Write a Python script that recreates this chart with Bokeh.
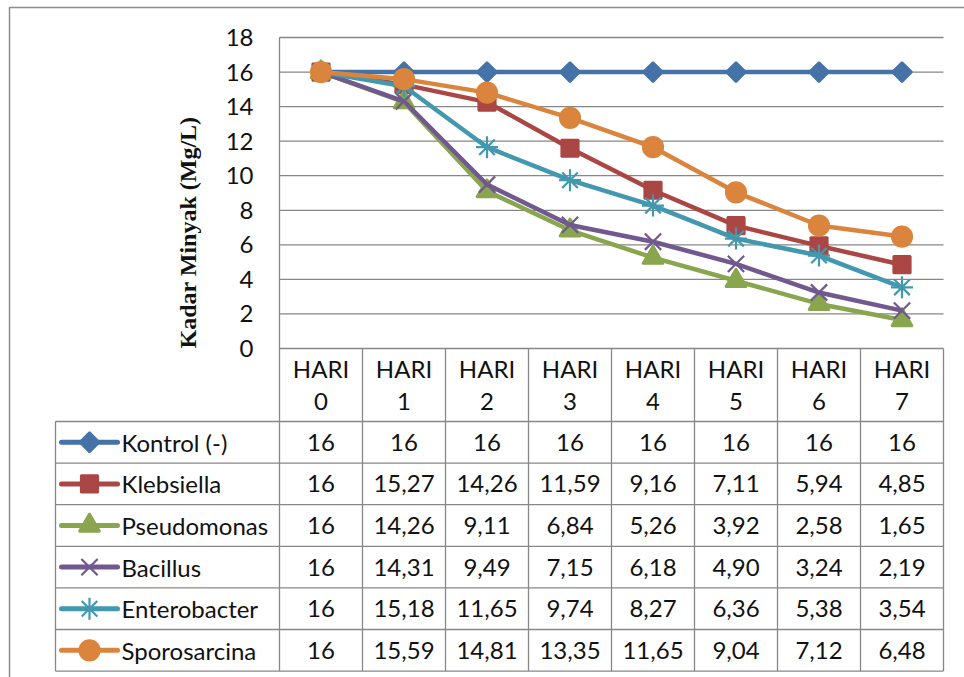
import math
from bokeh.plotting import figure
from bokeh.models import Range1d
from bokeh.core.properties import value
from bokeh.embed import file_html
from bokeh.resources import INLINE

# ---- data -----------------------------------------------------------------
categories = ["HARI 0", "HARI 1", "HARI 2", "HARI 3",
              "HARI 4", "HARI 5", "HARI 6", "HARI 7"]
y_ticks = [0, 2, 4, 6, 8, 10, 12, 14, 16, 18]
y_title = "Kadar Minyak (Mg/L)"

series_names = ["Kontrol (-)", "Klebsiella", "Pseudomonas",
                "Bacillus", "Enterobacter", "Sporosarcina"]
kontrol = [16, 16, 16, 16, 16, 16, 16, 16]
klebsiella = [16, 15.27, 14.26, 11.59, 9.16, 7.11, 5.94, 4.85]
pseudomonas = [16, 14.26, 9.11, 6.84, 5.26, 3.92, 2.58, 1.65]
bacillus = [16, 14.31, 9.49, 7.15, 6.18, 4.90, 3.24, 2.19]
enterobacter = [16, 15.18, 11.65, 9.74, 8.27, 6.36, 5.38, 3.54]
sporosarcina = [16, 15.59, 14.81, 13.35, 11.65, 9.04, 7.12, 6.48]
series_values = [kontrol, klebsiella, pseudomonas, bacillus, enterobacter, sporosarcina]

# ---- styling ----------------------------------------------------------------
colors = ["#4572A7", "#AA4643", "#89A54E", "#71588F", "#4198AF", "#DB843D"]
markers = [
    dict(marker="square", size=14, angle=math.pi / 4),   # diamond
    dict(marker="square", size=17, angle=0),
    dict(marker="triangle", size=21, angle=0),
    dict(marker="x", size=23, angle=0),
    dict(marker="asterisk", size=22, angle=0),
    dict(marker="circle", size=20, angle=0),
]
GRID = "#878787"
FONT = value("Lato")
FS = "24px"

# ---- layout (pixels) --------------------------------------------------------
W, H = 964, 677
PLOT_L, PLOT_R = 279, 943
PLOT_T, PLOT_B = 37, 348
ROW_TOP, ROW_H = 421, 41.6
LEG_L = 55
N = len(categories)
col_w = (PLOT_R - PLOT_L) / N
px_per_unit = (PLOT_B - PLOT_T) / (y_ticks[-1] - y_ticks[0])
table_bottom = ROW_TOP + ROW_H * len(series_names)

p = figure(width=W, height=H, output_backend="svg", toolbar_location=None,
           x_axis_location=None, y_axis_location=None, min_border=0,
           x_range=Range1d(-0.5 - PLOT_L / col_w, -0.5 + (W - PLOT_L) / col_w),
           y_range=Range1d(-(H - PLOT_B) / px_per_unit, PLOT_B / px_per_unit))
p.extra_x_ranges = {"px": Range1d(0, W)}
p.extra_y_ranges = {"px": Range1d(H, 0)}
p.grid.visible = False
p.outline_line_color = None
p.background_fill_color = "white"
p.border_fill_color = "white"

# outer chart border
p.line([9, 9, W + 10], [H + 10, 7, 7], x_range_name="px", y_range_name="px",
       line_color="#8c8c8c", line_width=1.5)

# horizontal gridlines across the plot area
p.segment(x0=[-0.5] * len(y_ticks), x1=[N - 0.5] * len(y_ticks),
          y0=y_ticks, y1=y_ticks, line_color=GRID, line_width=1.3)
# y tick labels
p.text(x=[253] * len(y_ticks), y=y_ticks, text=[str(t) for t in y_ticks],
       x_range_name="px", text_font=FONT, text_font_size=FS,
       text_align="right", text_baseline="middle", text_color="#111111")
# y axis title
p.text(x=[187], y=[232], text=[y_title], angle=math.pi / 2,
       x_range_name="px", y_range_name="px",
       text_font=value("Liberation Serif"), text_font_style="bold",
       text_font_size="24px", text_align="center", text_baseline="middle",
       text_color="#111111")

# data table: vertical column rules
col_edges = [i - 0.5 for i in range(N + 1)]
p.segment(x0=col_edges, x1=col_edges,
          y0=[PLOT_T] + [PLOT_B] * N, y1=[table_bottom] * (N + 1),
          y_range_name="px", line_color=GRID, line_width=1.3)
# data table: row rules and legend column edge
row_edges = [ROW_TOP + ROW_H * k for k in range(len(series_names) + 1)]
p.segment(x0=[LEG_L] * len(row_edges), x1=[PLOT_R] * len(row_edges),
          y0=row_edges, y1=row_edges, x_range_name="px", y_range_name="px",
          line_color=GRID, line_width=1.3)
p.segment(x0=[LEG_L], x1=[LEG_L], y0=[ROW_TOP], y1=[table_bottom],
          x_range_name="px", y_range_name="px", line_color=GRID, line_width=1.3)

# header cells (two lines each)
xs = list(range(N))
word = [c.split(" ")[0] for c in categories]
num = [c.split(" ")[1] for c in categories]
p.text(x=xs, y=[368] * N, text=word, y_range_name="px", text_font=FONT,
       text_font_size=FS, text_align="center", text_baseline="middle",
       text_color="#111111")
p.text(x=xs, y=[401] * N, text=num, y_range_name="px", text_font=FONT,
       text_font_size=FS, text_align="center", text_baseline="middle",
       text_color="#111111")


def fmt(v):
    return str(int(v)) if float(v).is_integer() else f"{v:.2f}".replace(".", ",")


# series lines and markers on the chart
for vals, col, mk in zip(series_values, colors, markers):
    p.line(xs, vals, line_color=col, line_width=4.5, line_join="round")
    p.scatter(xs, vals, marker=mk["marker"], size=mk["size"], angle=mk["angle"],
              fill_color=col, line_color=col, line_width=2.2)

# table rows: legend key, name, values
for k, (name, vals, col, mk) in enumerate(zip(series_names, series_values, colors, markers)):
    yc = ROW_TOP + ROW_H * (k + 0.5)
    p.line([61, 117], [yc, yc], x_range_name="px", y_range_name="px",
           line_color=col, line_width=5, line_cap="round")
    p.scatter([89], [yc], x_range_name="px", y_range_name="px",
              marker=mk["marker"], size=mk["size"], angle=mk["angle"],
              fill_color=col, line_color=col, line_width=2.2)
    p.text(x=[121], y=[yc], text=[name], x_range_name="px", y_range_name="px",
           text_font=FONT, text_font_size=FS, text_align="left",
           text_baseline="middle", text_color="#111111")
    p.text(x=xs, y=[yc] * N, text=[fmt(v) for v in vals], y_range_name="px",
           text_font=FONT, text_font_size=FS, text_align="center",
           text_baseline="middle", text_color="#111111")

open("out.html", "w").write(file_html(p, INLINE))
